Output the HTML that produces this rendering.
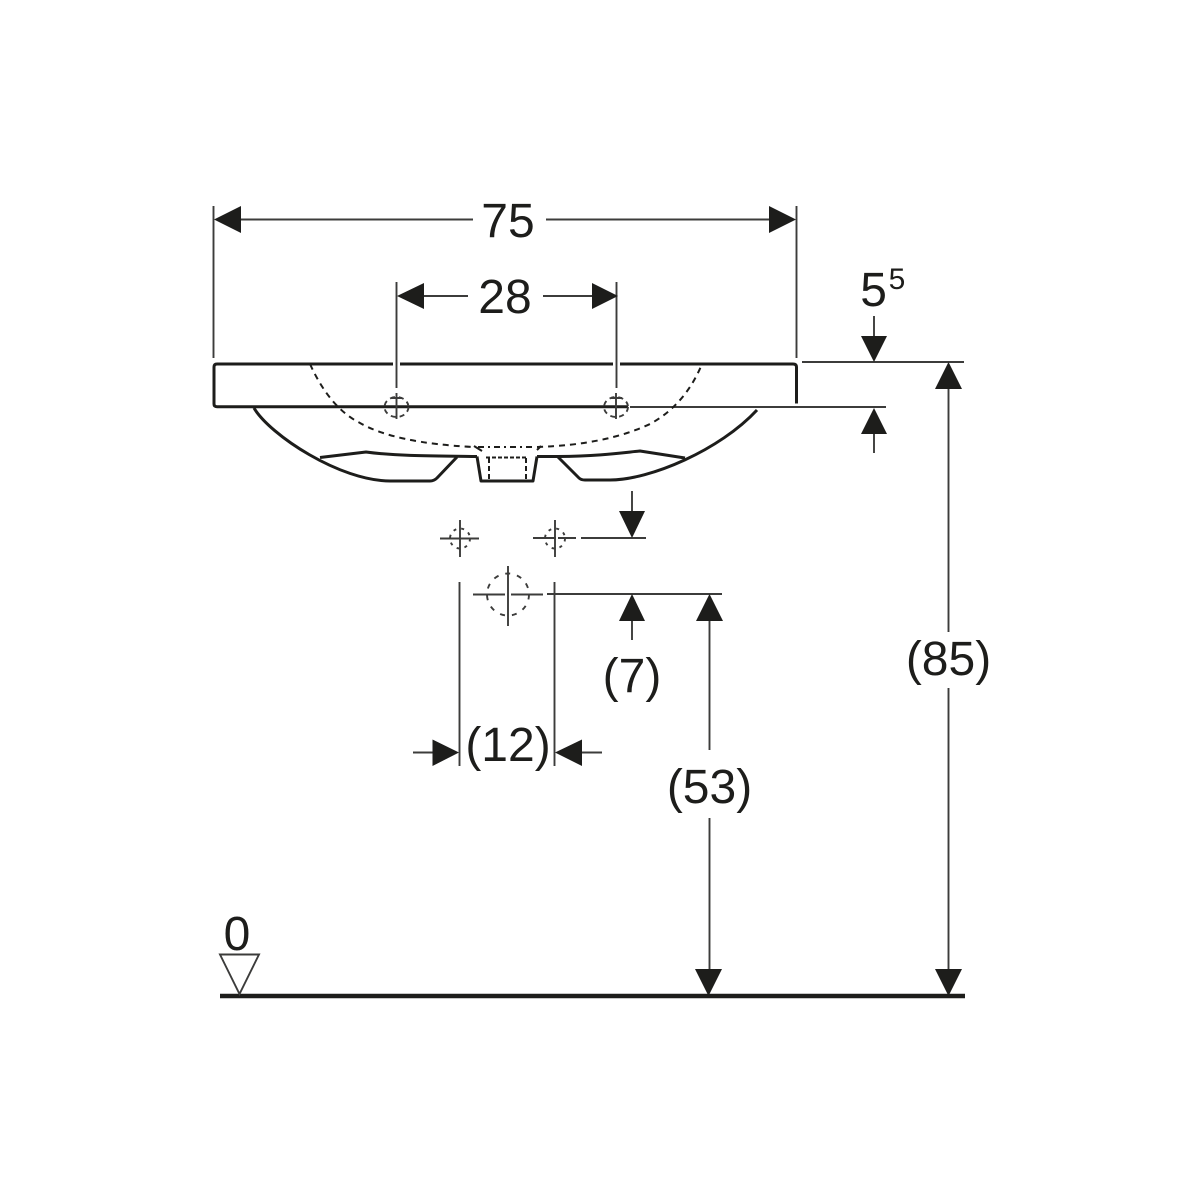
<!DOCTYPE html>
<html>
<head>
<meta charset="utf-8">
<style>
html,body{margin:0;padding:0;background:#fff}
svg{display:block}
text{font-family:"Liberation Sans",Arial,sans-serif;font-size:48px;fill:#1d1d1b;text-anchor:middle}
</style>
</head>
<body>
<svg width="1200" height="1200" viewBox="0 0 1200 1200" xmlns="http://www.w3.org/2000/svg">
<rect width="1200" height="1200" fill="#fff"/>

<!-- basin heavy outline -->
<g stroke="#1d1d1b" stroke-width="3" fill="none" stroke-linejoin="round" stroke-linecap="butt">
  <path d="M628 406.700H217Q214 406.700 214 404V367Q214 364 217 364H793Q796.500 364 796.500 367V403.500"/>
  <path d="M254 408C270 435 340 481 390 481H430Q434 481 437 478L457 457"/>
  <path d="M320 457.500L366 452C395 456 430 456 477 456.500"/>
  <path d="M477 456.500L481 481H533L537 456.500"/>
  <path d="M537 456.500H558C600 456 620 453 640 451L685 458"/>
  <path d="M558 457L579 478Q581 480 585 480H610C650 480 720 450 757 410"/>
</g>

<!-- gaps where the dimension lines cross the basin -->
<g fill="#fff">
  <rect x="393" y="361" width="7" height="6"/>
  <rect x="613" y="361" width="7" height="6"/>
</g>

<!-- thin dimension lines -->
<g stroke="#3c3c3b" stroke-width="1.900" fill="none">
  <path d="M213.500 206V358M796.500 206V358"/>
  <path d="M240 219.500H473M546 219.500H775"/>
  <path d="M396.500 282V388M616.500 282V388"/>
  <path d="M420 296H468M543 296H595"/>
  <path d="M802 362H964M630 407H886"/>
  <path d="M874 316V340M874 432V453"/>
  <path d="M948.500 385V632M948.500 688V970"/>
  <path d="M632 491V515M581 538H646"/>
  <path d="M547 594H722M632 615V640"/>
  <path d="M709.500 615V750M709.500 818V970"/>
  <path d="M459.500 582V766M554.500 582V766"/>
  <path d="M413 752.500H438M578 752.500H602"/>
  <!-- centre marks -->
  <path d="M440 538.500H479M460 520V557"/>
  <path d="M533 538H556M558 538H576M555 520V557"/>
  <path d="M473 594.500H505M511 594.500H543M508 566V626"/>
  <path d="M396.500 393V419M391 398H402"/>
  <path d="M616 393V419M611 398H622"/>
</g>

<!-- centre circles -->
<g stroke="#3c3c3b" stroke-width="1.900" fill="none">
  <ellipse cx="396.500" cy="407" rx="12" ry="10" stroke-dasharray="5 4"/>
  <ellipse cx="616" cy="407" rx="12" ry="10" stroke-dasharray="5 4"/>
  <circle cx="460" cy="538.500" r="10" stroke-dasharray="3 5"/>
  <circle cx="555" cy="538.500" r="10" stroke-dasharray="3 5"/>
  <circle cx="508" cy="594.500" r="21" stroke-dasharray="5 7"/>
</g>

<!-- hidden lines -->
<g stroke="#1d1d1b" stroke-width="2" fill="none">
  <path d="M310 364Q330 408 360 423Q395 443 473 447" stroke-dasharray="6 5"/>
  <path d="M478 447H536" stroke-dasharray="6 4 2 4"/>
  <path d="M537 447Q605 445 650 424Q685 405 702 364" stroke-dasharray="6 5"/>
  <path d="M474 446L482 451M537 450L541 446"/>
  <path d="M486 457.500H528" stroke-width="2" stroke-dasharray="4 2"/>
  <path d="M489 458V480M526 458V480" stroke-dasharray="5 3"/>
</g>

<!-- arrowheads -->
<g fill="#1d1d1b">
  <path d="M214 219.500L241 206V233Z"/>
  <path d="M796 219.500L769 206V233Z"/>
  <path d="M397 296L424 283V309Z"/>
  <path d="M618 296L592 283V309Z"/>
  <path d="M874 362L861 336H887Z"/>
  <path d="M874 408L861 434H887Z"/>
  <path d="M948.500 362L935 389H962Z"/>
  <path d="M948.500 996L935 969H962Z"/>
  <path d="M632 538L619 511H645Z"/>
  <path d="M632 594L619 621H645Z"/>
  <path d="M709.500 594L696 621H723Z"/>
  <path d="M708.500 996L695 969H722Z"/>
  <path d="M459 752.500L432.500 739.500V766Z"/>
  <path d="M555 752.500L582 739.500V766Z"/>
</g>

<!-- level mark -->
<path d="M220 996H965" stroke="#1d1d1b" stroke-width="4.500" fill="none"/>
<path d="M220 954.500H259L239.500 994Z" stroke="#3c3c3b" stroke-width="1.900" fill="none"/>

<!-- labels -->
<text x="508" y="237">75</text>
<text x="505" y="313">28</text>
<text x="887" y="306" style="text-anchor:end">5</text>
<text x="897" y="289" style="font-size:30px">5</text>
<text x="948.500" y="675">(85)</text>
<text x="709.500" y="803">(53)</text>
<text x="632" y="692">(7)</text>
<text x="508" y="761">(12)</text>
<text x="237" y="950">0</text>
</svg>
</body>
</html>
